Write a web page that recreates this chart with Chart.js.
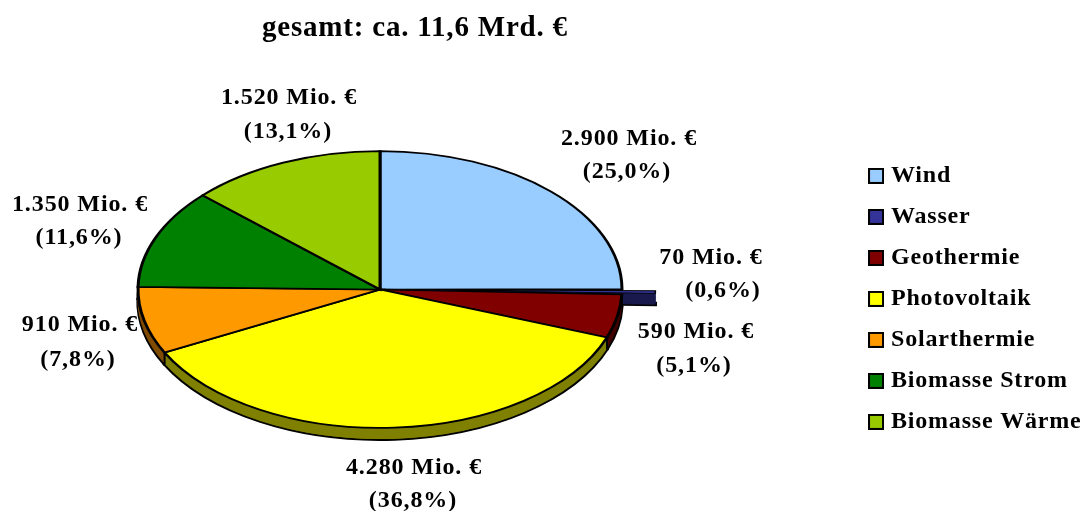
<!DOCTYPE html>
<html><head><meta charset="utf-8">
<style>html,body{margin:0;padding:0;background:#fff;overflow:hidden}canvas{display:block}</style>
<script src="https://cdn.jsdelivr.net/npm/chart.js@4"></script>
</head><body><canvas id="c" width="1088" height="511"></canvas>
<script>
const categories = ['Wind','Wasser','Geothermie','Photovoltaik','Solarthermie','Biomasse Strom','Biomasse Wärme'];
const values = [2900,70,590,4280,910,1350,1520];
const amountLabels = ['2.900 Mio. €','70 Mio. €','590 Mio. €','4.280 Mio. €','910 Mio. €','1.350 Mio. €','1.520 Mio. €'];
const percentLabels = ['(25,0%)','(0,6%)','(5,1%)','(36,8%)','(7,8%)','(11,6%)','(13,1%)'];
const colors = ['#99CCFF','#333399','#800000','#FFFF00','#FF9900','#008000','#99CC00'];
const sideColors = ['#4C6680','#1A1A4D','#400000','#808000','#804C00','#004000','#4C6600'];
const titleText = 'gesamt: ca. 11,6 Mrd. €';

const labelCentres = [[629,138.5,627,171.5],[711,257.5,723,290.5],[696,331.5,694,365.5],[414,467.5,413,500.5],[80,324.5,78,359.5],[80,204.5,79,237.5],[289,97.5,288,131.5]];
const CX=380, CY=289.5, RX=242, SQUASH=0.572, DEPTH=12;
const SERIF='"Liberation Serif","Times New Roman",serif';
const SPACING='0.8px';

const swatches = colors.map(col=>{
  const s=document.createElement('canvas'); s.width=16; s.height=16;
  const g=s.getContext('2d'); g.fillStyle='#000'; g.fillRect(0,0,16,16);
  g.fillStyle=col; g.fillRect(2,2,12,12);
  return s;
});

const pie3d = {
  id:'pie3d',
  beforeLayout(c){ c.ctx.letterSpacing=SPACING; },
  beforeDraw(c){ c.ctx.letterSpacing=SPACING; },
  beforeDatasetDraw(c){
    const ctx=c.ctx, arcs=c.getDatasetMeta(0).data;
    const a0=arcs[0];
    ctx.save();
    const place=(dy)=>{ ctx.setTransform(1,0,0,SQUASH,CX-a0.x,CY+dy-a0.y*SQUASH); };
    const drawWith=(arc,o)=>{ const keep=arc.options; arc.options=Object.assign(Object.create(keep),o); arc.draw(ctx); arc.options=keep; };
    place(DEPTH);
    arcs.forEach((arc,i)=>drawWith(arc,{backgroundColor:sideColors[i],borderColor:'#000',borderWidth:3.4}));
    for(let dy=DEPTH-1;dy>=1;dy--){
      place(dy);
      arcs.forEach((arc,i)=>drawWith(arc,{backgroundColor:sideColors[i],borderColor:sideColors[i],borderWidth:0.5}));
    }
    ctx.setTransform(1,0,0,1,0,0);
    ctx.strokeStyle='#000'; ctx.lineWidth=2;
    arcs.forEach((arc,i)=>{
      const s=Math.sin(arc.endAngle), co=Math.cos(arc.endAngle);
      if(s>0.02){
        const x=CX+arc.outerRadius*co, y=CY+arc.outerRadius*s*SQUASH;
        ctx.beginPath();ctx.moveTo(x,y);ctx.lineTo(x,y+DEPTH);ctx.stroke();
      }
    });
    place(0);
    arcs.forEach((arc,i)=>{ if(i!==1) arc.draw(ctx); });
    arcs[1].draw(ctx);
    ctx.restore();
    return false;
  },
  afterDatasetsDraw(c){
    const ctx=c.ctx;
    ctx.save();
    ctx.font='bold 24px '+SERIF;
    ctx.letterSpacing='0.9px';
    ctx.fillStyle='#000';ctx.textAlign='center';ctx.textBaseline='middle';
    amountLabels.forEach((t,i)=>{
      const p=labelCentres[i];
      ctx.fillText(t,p[0],p[1]);
      ctx.fillText(percentLabels[i],p[2],p[3]);
    });
    ctx.restore();
  }
};

new Chart(document.getElementById('c'),{
  type:'pie',
  data:{labels:categories,datasets:[{data:values,backgroundColor:colors,borderColor:'#000',borderWidth:[3,1.6,3,3,3,3,3],offset:[0,68,0,0,0,0,0],borderJoinStyle:'miter'}]},
  options:{
    responsive:false,animation:false,radius:RX,
    layout:{padding:{left:262,right:-3.5,top:0,bottom:0}},
    plugins:{
      tooltip:{enabled:false},
      title:{display:true,text:titleText,align:'start',color:'#000',font:{family:SERIF,size:29,weight:'bold'},padding:{top:11,bottom:41}},
      legend:{position:'right',align:'center',fullSize:false,labels:{color:'#000',font:{family:SERIF,size:24,weight:'bold'},usePointStyle:true,pointStyleWidth:6,padding:17,
        generateLabels:(chart)=>Chart.overrides.pie.plugins.legend.labels.generateLabels(chart).map((l,i)=>Object.assign(l,{pointStyle:swatches[i]}))}}
    }
  },
  plugins:[pie3d]
});
</script></body></html>
